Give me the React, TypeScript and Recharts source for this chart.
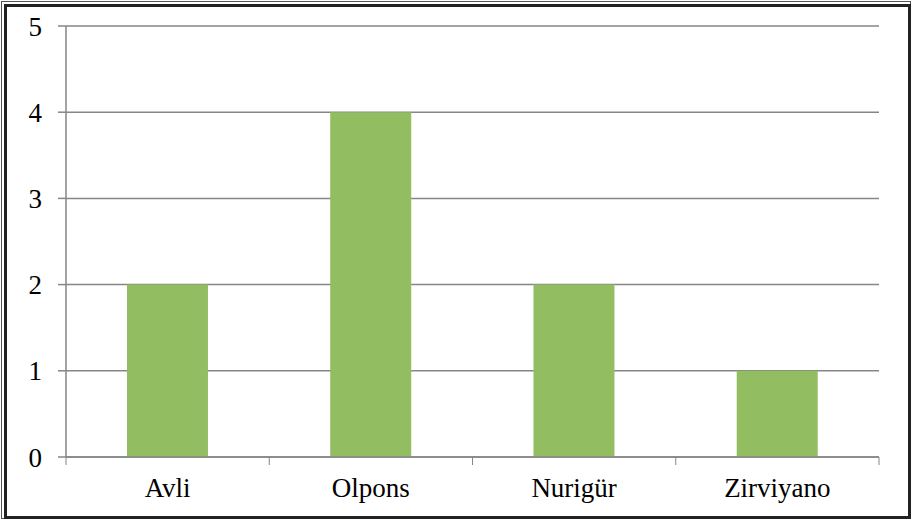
import React from "react";
import { Bar, BarChart, CartesianGrid, XAxis, YAxis } from "recharts";

const categories = ["Avli", "Olpons", "Nurigür", "Zirviyano"];
const counts = [2, 4, 2, 1];
const yTicks = [0, 1, 2, 3, 4, 5];

const data = categories.map((name, i) => ({ name, value: counts[i] }));

const W = 913;
const H = 520;
const MARGIN = { top: 26, right: 34, left: 10, bottom: 0 };
const Y_AXIS_W = 56;
const X_AXIS_H = 63;
const PLOT_W = W - MARGIN.left - MARGIN.right - Y_AXIS_W;
const BAND = PLOT_W / categories.length;

const GRID = "#868686";
const FONT = "Liberation Serif, DejaVu Serif";
const TICK_SIZE = 8;
const X_TICK_MARGIN = 13;

function XTick(props: any) {
  const { x, y, payload, index } = props;
  const lineY = y - X_TICK_MARGIN - TICK_SIZE;
  const half = BAND / 2;
  return (
    <g>
      <line x1={x - half} x2={x - half} y1={lineY} y2={lineY + TICK_SIZE} stroke={GRID} />
      {index === categories.length - 1 && (
        <line x1={x + half} x2={x + half} y1={lineY} y2={lineY + TICK_SIZE} stroke={GRID} />
      )}
      <text
        x={x}
        y={y}
        dy="0.71em"
        textAnchor="middle"
        fill="#000"
        style={{ fontFamily: FONT, fontSize: 27 }}
      >
        {payload.value}
      </text>
    </g>
  );
}

function YTick(props: any) {
  const { x, y, payload } = props;
  return (
    <text
      x={x}
      y={y}
      dy="0.355em"
      textAnchor="end"
      fill="#000"
      style={{ fontFamily: FONT, fontSize: 27 }}
    >
      {payload.value}
    </text>
  );
}

export default function App() {
  return (
    <div style={{ position: "absolute", left: 0, top: 0, width: W, height: H, background: "#fff" }}>
      <div
        style={{
          position: "absolute",
          left: 1,
          top: 1,
          width: 908,
          height: 516,
          border: "1px solid #555",
        }}
      />
      <div
        style={{
          position: "absolute",
          left: 4,
          top: 4,
          right: 2,
          bottom: 1,
          border: "3px solid #222",
        }}
      />
      <div style={{ position: "absolute", left: 0, top: 0 }}>
        <BarChart width={W} height={H} data={data} margin={MARGIN} barCategoryGap="30%">
          <CartesianGrid vertical={false} stroke={GRID} strokeWidth={1.5} />
          <XAxis
            dataKey="name"
            height={X_AXIS_H}
            axisLine={{ stroke: GRID, strokeWidth: 1.5 }}
            tickLine={false}
            tickSize={TICK_SIZE}
            tickMargin={X_TICK_MARGIN}
            tick={<XTick />}
            interval={0}
          />
          <YAxis
            width={Y_AXIS_W}
            domain={[0, 5]}
            ticks={yTicks}
            interval={0}
            axisLine={{ stroke: GRID, strokeWidth: 1.5 }}
            tickLine={{ stroke: GRID, strokeWidth: 1.5 }}
            tickSize={TICK_SIZE}
            tickMargin={16}
            tick={<YTick />}
          />
          <Bar dataKey="value" fill="#93bd61" isAnimationActive={false} />
        </BarChart>
      </div>
    </div>
  );
}
